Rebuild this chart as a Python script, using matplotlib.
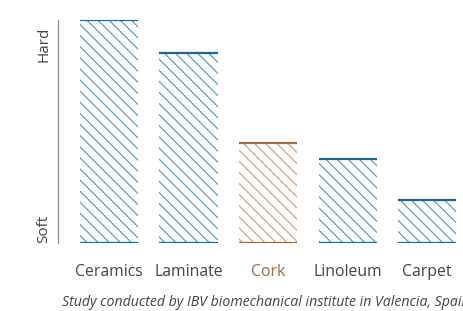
import matplotlib
import matplotlib.pyplot as plt

matplotlib.use("Agg")

materials = ["Ceramics", "Laminate", "Cork", "Linoleum", "Carpet"]
hardness = [100, 85, 45, 37.5, 19.5]
highlight = "Cork"

scale_ticks = [6.5, 89]
scale_labels = ["Soft", "Hard"]

note = "Study conducted by IBV biomechanical institute in Valencia, Spain"

blue_edge = "#1c6398"
blue_hatch = "#4f95c4"
brown_edge = "#9c6a45"
brown_hatch = "#c39f84"
grey = "#444444"

plt.rcParams["font.family"] = ["Open Sans", "DejaVu Sans"]
plt.rcParams["hatch.linewidth"] = 0.8

fig = plt.figure(figsize=(4.63, 3.11), dpi=100)
ax = fig.add_axes([58 / 463, 1 - 243 / 311, (463 - 58) / 463, 223 / 311])

x = range(len(materials))
width = 0.73
for i, (name, val) in enumerate(zip(materials, hardness)):
    is_hl = name == highlight
    edge = brown_edge if is_hl else blue_edge
    hatch_c = brown_hatch if is_hl else blue_hatch
    ax.bar(i, val, width=width, color="none", edgecolor=hatch_c,
           hatch="\\" * 3, linewidth=0)
    ax.hlines([0, val], i - width / 2, i + width / 2, color=edge, lw=1.6)

ax.set_xlim(-0.64, 4.45)
ax.set_ylim(0, 100)

for side in ["top", "right", "bottom"]:
    ax.spines[side].set_visible(False)
ax.spines["left"].set_color("#999999")
ax.spines["left"].set_linewidth(1.0)

ax.set_xticks(list(x))
ax.set_xticklabels(materials, fontsize=11.3, color=grey)
for lbl in ax.get_xticklabels():
    if lbl.get_text() == highlight:
        lbl.set_color(brown_edge)
ax.set_yticks(scale_ticks)
ax.set_yticklabels(scale_labels, rotation=90, va="center", fontsize=11,
                   color=grey)
ax.tick_params(length=0, pad=5)
ax.tick_params(axis="x", pad=15)

# the source note runs off the right edge in the original too
fig.text(62 / 463, 1 - 302 / 311, note, style="italic", fontsize=10.2,
         color=grey, va="center")

fig.savefig("out.png", dpi=100)
